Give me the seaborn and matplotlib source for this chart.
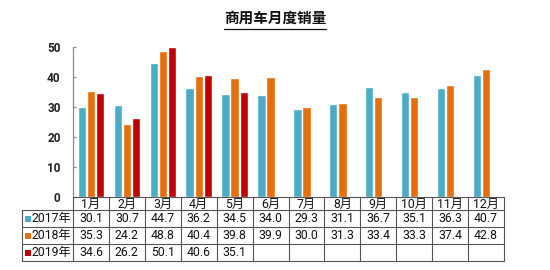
import numpy as np
import pandas as pd
import matplotlib
matplotlib.use('Agg')
import matplotlib.pyplot as plt
import seaborn as sns
from matplotlib.lines import Line2D
from matplotlib.patches import Rectangle

# ---------------- data ----------------
months = ['1月', '2月', '3月', '4月', '5月', '6月', '7月', '8月', '9月', '10月', '11月', '12月']
series_names = ['2017年', '2018年', '2019年']
sales_2017 = [30.1, 30.7, 44.7, 36.2, 34.5, 34.0, 29.3, 31.1, 36.7, 35.1, 36.3, 40.7]
sales_2018 = [35.3, 24.2, 48.8, 40.4, 39.8, 39.9, 30.0, 31.3, 33.4, 33.3, 37.4, 42.8]
sales_2019 = [34.6, 26.2, 50.1, 40.6, 35.1, None, None, None, None, None, None, None]
yticks = [0, 10, 20, 30, 40, 50]
colors = ['#4bacc6', '#e66e0b', '#c00000']
title = '商用车月度销量'

# ---------------- style ----------------
sns.set_theme(style='white')
plt.rcParams['font.family'] = ['Roboto', 'Noto Sans CJK SC', 'DejaVu Sans']

W, H = 550, 270
fig = plt.figure(figsize=(W / 100, H / 100), dpi=100)
fig.patch.set_facecolor('white')


def fx(px):
    return px / W


def fy(py):
    return 1 - py / H


ax = fig.add_axes([fx(73), fy(197), 431 / W, 150 / H])

all_series = [sales_2017, sales_2018, sales_2019]
df = pd.DataFrame({
    '月份': months * 3,
    '销量': [np.nan if v is None else v for s in all_series for v in s],
    '年份': np.repeat(series_names, len(months)),
})

sns.barplot(data=df, x='月份', y='销量', hue='年份', order=months,
            hue_order=series_names, palette=colors, saturation=1,
            width=0.76, gap=0.08, ax=ax, legend=False, errorbar=None)

ax.set_xlim(-0.5, len(months) - 0.5)
ax.set_ylim(yticks[0], yticks[-1])
ax.set_yticks(yticks)
ax.set_xlabel('')
ax.set_ylabel('')
for s in ['top', 'right', 'bottom']:
    ax.spines[s].set_visible(False)
ax.spines['left'].set_color('#8a8a8a')
ax.spines['left'].set_linewidth(0.9)
ax.tick_params(axis='y', left=True, direction='in', length=2.5, width=0.9,
               color='#8a8a8a', pad=9, labelsize=8.5, labelcolor='#222222')
for lbl in ax.get_yticklabels():
    lbl.set_fontweight('bold')
ax.tick_params(axis='x', bottom=False, labelbottom=False)

# ---------------- title ----------------
t = fig.text(fx(275), fy(19), title, ha='center', va='center',
             fontsize=10.5, fontweight='bold', color='#111111')
renderer = fig.canvas.get_renderer()
bb = t.get_window_extent(renderer)
fig.add_artist(Line2D([bb.x0 / W, bb.x1 / W], [fy(28.5), fy(28.5)],
                      color='#111111', lw=0.9))

# ---------------- data table ----------------
line_kw = dict(color='#555555', lw=0.8)
to_px = lambda xd: ax.transData.transform((xd, 0))[0]
col_edges = [to_px(i - 0.5) for i in range(len(months) + 1)]
row_edges = [197, 210, 227, 244, 261]
left_px = 22
fs = 8.8

# horizontal lines
fig.add_artist(Line2D([col_edges[0] / W, col_edges[-1] / W], [fy(197), fy(197)], **line_kw))
for r in row_edges[1:]:
    fig.add_artist(Line2D([fx(left_px), col_edges[-1] / W], [fy(r), fy(r)], **line_kw))
# vertical lines
for c in col_edges:
    fig.add_artist(Line2D([c / W, c / W], [fy(197), fy(261)], **line_kw))
fig.add_artist(Line2D([fx(left_px), fx(left_px)], [fy(210), fy(261)], **line_kw))

# header
for i, m in enumerate(months):
    cx = (col_edges[i] + col_edges[i + 1]) / 2
    fig.text(cx / W, fy((197 + 210) / 2 + 0.5), m, ha='center', va='center',
             fontsize=fs, color='#111111')

# rows
for j, (name, series, col) in enumerate(zip(series_names, all_series, colors)):
    cy = (row_edges[j + 1] + row_edges[j + 2]) / 2
    fig.add_artist(Rectangle((fx(24.5), fy(cy + 3)), 6 / W, 6 / H,
                             facecolor=col, edgecolor='none'))
    fig.text(fx(32), fy(cy), name, ha='left', va='center', fontsize=fs,
             color='#111111')
    for i, v in enumerate(series):
        if v is None:
            continue
        cx = (col_edges[i] + col_edges[i + 1]) / 2
        fig.text(cx / W, fy(cy), f'{v:.1f}', ha='center', va='center',
                 fontsize=fs, color='#111111')

fig.savefig('out.png', dpi=100, facecolor='white')
